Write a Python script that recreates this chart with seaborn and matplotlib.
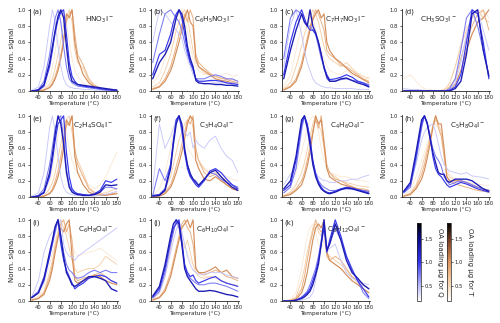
import numpy as np
import matplotlib
matplotlib.use('Agg')
import matplotlib.pyplot as plt
import seaborn as sns
from matplotlib.colors import LinearSegmentedColormap, Normalize
from matplotlib.cm import ScalarMappable

# temperature grid (deg C) shared by all thermograms
T = [28, 40, 50, 60, 65, 70, 75, 80, 85, 90, 95, 100, 105, 110, 120, 130, 140, 150, 160, 170, 180]

# OA loading (ug) of each line, Q = blue, T = orange
load_q = [0.45, 0.75, 1.0, 1.3]
load_t = [0.4, 0.6, 0.8, 1.05]

labels = ['HNO$_3$I$^-$', 'C$_6$H$_5$NO$_3$I$^-$', 'C$_7$H$_7$NO$_3$I$^-$', 'CH$_3$SO$_3$I$^-$',
          'C$_2$H$_4$SO$_4$I$^-$', 'C$_3$H$_4$O$_4$I$^-$', 'C$_4$H$_6$O$_4$I$^-$', 'C$_5$H$_8$O$_4$I$^-$',
          'C$_6$H$_8$O$_4$I$^-$', 'C$_6$H$_{10}$O$_4$I$^-$', 'C$_8$H$_{12}$O$_4$I$^-$']
letters = ['(a)', '(b)', '(c)', '(d)', '(e)', '(f)', '(g)', '(h)', '(i)', '(j)', '(k)']

a_blue = [
    [0.01, 0.05, 0.3, 0.8, 1.0, 0.85, 0.55, 0.3, 0.15, 0.08, 0.05, 0.04, 0.03, 0.03, 0.02, 0.02, 0.01, 0.01, 0.01, 0.0, 0.0],
    [0.0, 0.02, 0.12, 0.45, 0.7, 0.9, 1.0, 0.85, 0.55, 0.3, 0.15, 0.1, 0.08, 0.06, 0.05, 0.04, 0.03, 0.02, 0.01, 0.01, 0.0],
    [0.0, 0.01, 0.06, 0.3, 0.5, 0.72, 0.88, 0.97, 1.0, 0.7, 0.35, 0.18, 0.12, 0.08, 0.06, 0.05, 0.04, 0.03, 0.02, 0.01, 0.01],
    [0.0, 0.01, 0.08, 0.35, 0.55, 0.75, 0.92, 1.0, 0.9, 0.55, 0.25, 0.12, 0.1, 0.08, 0.07, 0.06, 0.05, 0.04, 0.03, 0.02, 0.01],
]
a_orange = [
    [0.0, 0.01, 0.04, 0.15, 0.3, 0.5, 0.7, 0.9, 1.0, 0.85, 0.6, 0.4, 0.25, 0.18, 0.1, 0.06, 0.04, 0.03, 0.02, 0.02, 0.01],
    [0.0, 0.0, 0.02, 0.08, 0.15, 0.28, 0.45, 0.62, 0.8, 0.9, 1.0, 0.85, 0.5, 0.35, 0.28, 0.12, 0.05, 0.03, 0.02, 0.01, 0.01],
    [0.0, 0.0, 0.01, 0.05, 0.1, 0.18, 0.3, 0.45, 0.65, 0.85, 0.95, 1.0, 0.7, 0.45, 0.32, 0.15, 0.07, 0.04, 0.02, 0.02, 0.01],
    [0.0, 0.0, 0.01, 0.04, 0.08, 0.15, 0.25, 0.4, 0.6, 0.95, 0.9, 1.0, 0.6, 0.4, 0.2, 0.1, 0.05, 0.03, 0.02, 0.01, 0.01],
]
b_blue = [
    [0.6, 1.0, 0.95, 0.85, 0.8, 0.75, 0.7, 0.65, 0.5, 0.4, 0.3, 0.2, 0.15, 0.12, 0.12, 0.12, 0.1, 0.1, 0.1, 0.1, 0.1],
    [0.35, 0.7, 0.95, 1.0, 0.95, 0.9, 0.85, 0.75, 0.6, 0.45, 0.35, 0.25, 0.15, 0.15, 0.15, 0.18, 0.2, 0.18, 0.15, 0.15, 0.12],
    [0.2, 0.45, 0.5, 0.7, 0.85, 0.95, 1.0, 0.9, 0.7, 0.5, 0.35, 0.28, 0.15, 0.12, 0.12, 0.13, 0.13, 0.12, 0.1, 0.09, 0.08],
    [0.15, 0.35, 0.45, 0.6, 0.75, 0.9, 1.0, 0.95, 0.8, 0.55, 0.4, 0.3, 0.13, 0.1, 0.09, 0.09, 0.08, 0.08, 0.07, 0.07, 0.06],
]
b_orange = [
    [0.1, 0.2, 0.4, 0.65, 0.8, 0.9, 0.95, 1.0, 0.9, 0.75, 0.55, 0.4, 0.3, 0.25, 0.2, 0.2, 0.18, 0.2, 0.22, 0.18, 0.2],
    [0.05, 0.1, 0.25, 0.45, 0.6, 0.75, 0.85, 0.95, 1.0, 0.9, 0.7, 0.5, 0.35, 0.3, 0.22, 0.2, 0.18, 0.15, 0.15, 0.14, 0.12],
    [0.03, 0.06, 0.15, 0.3, 0.42, 0.55, 0.7, 0.82, 0.95, 0.85, 1.0, 0.9, 0.45, 0.35, 0.28, 0.22, 0.18, 0.16, 0.14, 0.12, 0.1],
    [0.02, 0.05, 0.12, 0.25, 0.35, 0.48, 0.6, 0.75, 0.9, 1.0, 0.85, 0.8, 0.4, 0.3, 0.25, 0.2, 0.15, 0.13, 0.12, 0.1, 0.1],
]
c_blue = [
    [0.3, 0.8, 1.0, 0.7, 0.5, 0.35, 0.25, 0.15, 0.1, 0.08, 0.06, 0.05, 0.04, 0.04, 0.03, 0.03, 0.03, 0.03, 0.02, 0.02, 0.02],
    [0.4, 0.9, 1.0, 0.95, 0.85, 0.8, 0.8, 0.75, 0.7, 0.55, 0.4, 0.3, 0.15, 0.12, 0.12, 0.14, 0.15, 0.13, 0.12, 0.1, 0.08],
    [0.2, 0.6, 0.85, 1.0, 0.9, 0.8, 0.75, 0.75, 0.7, 0.6, 0.45, 0.3, 0.2, 0.14, 0.15, 0.17, 0.2, 0.17, 0.12, 0.1, 0.06],
    [0.15, 0.5, 0.75, 0.95, 0.85, 0.8, 1.0, 0.8, 0.72, 0.6, 0.45, 0.28, 0.18, 0.12, 0.12, 0.15, 0.16, 0.13, 0.1, 0.08, 0.05],
]
c_orange = [
    [0.05, 0.2, 0.5, 0.8, 0.9, 0.95, 1.0, 0.9, 0.75, 0.6, 0.5, 0.4, 0.3, 0.25, 0.22, 0.2, 0.25, 0.2, 0.18, 0.15, 0.15],
    [0.03, 0.1, 0.3, 0.55, 0.7, 0.8, 0.9, 1.0, 0.95, 0.85, 0.7, 0.55, 0.45, 0.4, 0.35, 0.3, 0.35, 0.28, 0.22, 0.18, 0.16],
    [0.02, 0.06, 0.15, 0.35, 0.5, 0.65, 0.8, 0.9, 1.0, 0.95, 0.85, 0.75, 0.5, 0.45, 0.4, 0.32, 0.3, 0.25, 0.2, 0.15, 0.12],
    [0.01, 0.05, 0.12, 0.3, 0.45, 0.6, 0.75, 0.88, 0.95, 1.0, 0.9, 0.95, 0.6, 0.5, 0.4, 0.35, 0.28, 0.22, 0.18, 0.14, 0.1],
]
d_blue = [
    [0.03, 0.02, 0.02, 0.01, 0.01, 0.0, 0.0, 0.0, 0.0, 0.0, 0.0, 0.0, 0.01, 0.02, 0.1, 0.35, 0.7, 0.95, 1.0, 0.75, 0.5],
    [0.0, 0.0, 0.0, 0.0, 0.0, 0.0, 0.0, 0.0, 0.0, 0.0, 0.0, 0.0, 0.01, 0.03, 0.15, 0.5, 0.9, 1.0, 0.8, 0.5, 0.2],
    [0.0, 0.0, 0.0, 0.0, 0.0, 0.0, 0.0, 0.0, 0.0, 0.0, 0.0, 0.0, 0.0, 0.01, 0.05, 0.2, 0.6, 1.0, 0.95, 0.6, 0.15],
    [0.0, 0.0, 0.0, 0.0, 0.0, 0.0, 0.0, 0.0, 0.0, 0.0, 0.0, 0.0, 0.0, 0.0, 0.03, 0.12, 0.45, 0.95, 1.0, 0.5, 0.18],
]
d_orange = [
    [0.15, 0.2, 0.12, 0.05, 0.03, 0.02, 0.02, 0.01, 0.01, 0.01, 0.01, 0.02, 0.03, 0.08, 0.3, 0.6, 0.8, 0.7, 0.85, 1.0, 0.9],
    [0.01, 0.01, 0.01, 0.01, 0.0, 0.0, 0.0, 0.0, 0.0, 0.0, 0.01, 0.02, 0.05, 0.1, 0.3, 0.55, 0.75, 0.9, 1.0, 0.9, 0.85],
    [0.0, 0.0, 0.0, 0.0, 0.0, 0.0, 0.0, 0.0, 0.0, 0.0, 0.0, 0.0, 0.02, 0.05, 0.15, 0.4, 0.65, 0.8, 0.95, 1.0, 0.75],
    [0.0, 0.0, 0.0, 0.0, 0.0, 0.0, 0.0, 0.0, 0.0, 0.0, 0.0, 0.0, 0.0, 0.02, 0.08, 0.25, 0.5, 0.7, 0.85, 0.9, 1.0],
]
e_blue = [
    [0.01, 0.05, 0.3, 0.85, 1.0, 0.8, 0.5, 0.25, 0.12, 0.06, 0.04, 0.03, 0.02, 0.02, 0.01, 0.01, 0.01, 0.02, 0.03, 0.05, 0.07],
    [0.0, 0.02, 0.1, 0.4, 0.62, 0.85, 0.97, 1.0, 0.7, 0.35, 0.15, 0.08, 0.05, 0.04, 0.03, 0.02, 0.03, 0.06, 0.12, 0.12, 0.1],
    [0.0, 0.01, 0.05, 0.25, 0.45, 0.7, 0.9, 0.95, 1.0, 0.55, 0.25, 0.1, 0.06, 0.04, 0.03, 0.02, 0.04, 0.08, 0.2, 0.18, 0.22],
    [0.0, 0.01, 0.06, 0.3, 0.52, 0.78, 1.0, 0.9, 0.65, 0.3, 0.12, 0.06, 0.04, 0.03, 0.02, 0.02, 0.03, 0.06, 0.15, 0.14, 0.15],
]
e_orange = [
    [0.0, 0.01, 0.05, 0.2, 0.35, 0.55, 0.75, 0.92, 1.0, 0.8, 0.6, 0.45, 0.35, 0.3, 0.25, 0.15, 0.1, 0.15, 0.25, 0.4, 0.55],
    [0.0, 0.0, 0.02, 0.1, 0.18, 0.3, 0.48, 0.65, 0.85, 0.95, 1.0, 0.8, 0.55, 0.45, 0.3, 0.12, 0.06, 0.04, 0.05, 0.08, 0.1],
    [0.0, 0.0, 0.01, 0.05, 0.1, 0.2, 0.32, 0.5, 0.7, 0.88, 0.92, 1.0, 0.6, 0.4, 0.25, 0.1, 0.05, 0.03, 0.03, 0.04, 0.05],
    [0.0, 0.0, 0.01, 0.04, 0.08, 0.15, 0.25, 0.4, 0.6, 0.95, 0.88, 1.0, 0.5, 0.3, 0.15, 0.06, 0.03, 0.02, 0.02, 0.03, 0.04],
]
f_blue = [
    [0.1, 0.9, 0.6, 0.75, 0.85, 0.95, 1.0, 0.9, 0.8, 0.75, 0.8, 0.6, 0.7, 0.65, 0.6, 0.7, 0.75, 0.6, 0.5, 0.45, 0.3],
    [0.02, 0.35, 0.2, 0.4, 0.7, 0.95, 1.0, 0.8, 0.55, 0.4, 0.3, 0.22, 0.2, 0.15, 0.22, 0.3, 0.28, 0.22, 0.18, 0.15, 0.12],
    [0.02, 0.03, 0.1, 0.4, 0.7, 0.95, 1.0, 0.85, 0.55, 0.35, 0.25, 0.2, 0.15, 0.12, 0.2, 0.32, 0.35, 0.3, 0.22, 0.15, 0.1],
    [0.01, 0.02, 0.08, 0.35, 0.65, 0.9, 1.0, 0.9, 0.6, 0.4, 0.28, 0.22, 0.18, 0.14, 0.22, 0.3, 0.33, 0.25, 0.18, 0.12, 0.08],
]
f_orange = [
    [0.02, 0.1, 0.3, 0.6, 0.8, 0.95, 1.0, 0.85, 0.7, 0.6, 0.55, 0.5, 0.45, 0.4, 0.35, 0.3, 0.35, 0.3, 0.25, 0.22, 0.2],
    [0.01, 0.03, 0.1, 0.25, 0.4, 0.55, 0.7, 0.8, 0.9, 0.95, 1.0, 0.85, 0.55, 0.45, 0.35, 0.28, 0.3, 0.25, 0.2, 0.15, 0.12],
    [0.0, 0.02, 0.06, 0.15, 0.25, 0.38, 0.5, 0.65, 0.8, 0.95, 0.9, 1.0, 0.6, 0.45, 0.3, 0.25, 0.28, 0.22, 0.15, 0.12, 0.1],
    [0.0, 0.01, 0.04, 0.12, 0.2, 0.3, 0.42, 0.55, 0.72, 0.9, 1.0, 0.95, 0.45, 0.35, 0.22, 0.2, 0.25, 0.2, 0.15, 0.1, 0.08],
]
g_blue = [
    [0.15, 0.28, 0.35, 0.8, 1.0, 0.85, 0.6, 0.4, 0.3, 0.25, 0.22, 0.2, 0.2, 0.18, 0.18, 0.2, 0.2, 0.22, 0.22, 0.25, 0.27],
    [0.05, 0.12, 0.35, 0.85, 1.0, 0.9, 0.7, 0.45, 0.3, 0.2, 0.15, 0.12, 0.1, 0.08, 0.08, 0.1, 0.1, 0.1, 0.09, 0.08, 0.07],
    [0.08, 0.15, 0.45, 0.9, 1.0, 0.9, 0.72, 0.45, 0.28, 0.18, 0.12, 0.08, 0.06, 0.05, 0.07, 0.1, 0.12, 0.11, 0.09, 0.07, 0.05],
    [0.1, 0.2, 0.5, 0.95, 1.0, 0.85, 0.65, 0.4, 0.25, 0.16, 0.1, 0.07, 0.05, 0.04, 0.06, 0.09, 0.11, 0.1, 0.08, 0.06, 0.04],
]
g_orange = [
    [0.05, 0.15, 0.3, 0.55, 0.7, 0.85, 0.95, 1.0, 0.95, 0.8, 0.6, 0.45, 0.35, 0.3, 0.28, 0.25, 0.25, 0.22, 0.2, 0.2, 0.18],
    [0.02, 0.06, 0.15, 0.3, 0.42, 0.58, 0.75, 0.9, 1.0, 0.9, 0.8, 0.6, 0.35, 0.3, 0.25, 0.2, 0.18, 0.16, 0.14, 0.13, 0.12],
    [0.01, 0.04, 0.1, 0.2, 0.3, 0.45, 0.62, 0.82, 0.95, 0.85, 1.0, 0.7, 0.4, 0.3, 0.22, 0.2, 0.16, 0.13, 0.1, 0.1, 0.08],
    [0.01, 0.03, 0.08, 0.15, 0.25, 0.38, 0.55, 0.78, 1.0, 0.9, 0.95, 0.65, 0.35, 0.25, 0.2, 0.16, 0.14, 0.12, 0.1, 0.08, 0.07],
]
h_blue = [
    [0.05, 0.15, 0.4, 0.7, 0.8, 0.85, 0.88, 0.9, 0.8, 0.65, 0.5, 0.4, 0.35, 0.32, 0.3, 0.28, 0.3, 0.26, 0.25, 0.24, 0.22],
    [0.05, 0.12, 0.45, 0.85, 1.0, 0.9, 0.75, 0.6, 0.5, 0.45, 0.38, 0.25, 0.2, 0.15, 0.18, 0.2, 0.18, 0.15, 0.12, 0.1, 0.08],
    [0.06, 0.15, 0.5, 0.9, 1.0, 0.92, 0.75, 0.5, 0.35, 0.28, 0.25, 0.2, 0.15, 0.12, 0.15, 0.18, 0.16, 0.13, 0.1, 0.08, 0.06],
    [0.07, 0.18, 0.55, 0.95, 1.0, 0.9, 0.72, 0.55, 0.42, 0.3, 0.28, 0.28, 0.2, 0.18, 0.22, 0.22, 0.22, 0.2, 0.15, 0.1, 0.07],
]
h_orange = [
    [0.02, 0.08, 0.25, 0.45, 0.55, 0.65, 0.75, 0.85, 0.9, 0.85, 0.75, 0.6, 0.35, 0.28, 0.22, 0.2, 0.18, 0.17, 0.16, 0.15, 0.14],
    [0.01, 0.05, 0.15, 0.35, 0.48, 0.6, 0.75, 0.85, 0.95, 0.9, 0.8, 0.55, 0.3, 0.25, 0.2, 0.18, 0.16, 0.14, 0.12, 0.1, 0.09],
    [0.01, 0.04, 0.12, 0.28, 0.4, 0.55, 0.7, 0.88, 1.0, 0.85, 0.75, 0.5, 0.25, 0.2, 0.16, 0.14, 0.12, 0.1, 0.08, 0.07, 0.06],
    [0.01, 0.03, 0.1, 0.22, 0.33, 0.48, 0.65, 0.85, 1.0, 0.9, 0.9, 0.6, 0.25, 0.2, 0.2, 0.2, 0.18, 0.15, 0.12, 0.1, 0.08],
]
i_blue = [
    [0.05, 0.25, 0.6, 0.8, 0.85, 0.9, 0.95, 1.0, 0.7, 0.6, 0.55, 0.55, 0.5, 0.55, 0.6, 0.65, 0.7, 0.75, 0.8, 0.85, 0.9],
    [0.05, 0.12, 0.3, 0.55, 0.7, 0.85, 1.0, 0.8, 0.6, 0.45, 0.38, 0.35, 0.3, 0.28, 0.3, 0.35, 0.38, 0.35, 0.38, 0.35, 0.35],
    [0.04, 0.1, 0.25, 0.55, 0.72, 0.9, 1.0, 0.7, 0.5, 0.38, 0.3, 0.22, 0.15, 0.18, 0.22, 0.28, 0.3, 0.32, 0.3, 0.25, 0.22],
    [0.04, 0.1, 0.28, 0.6, 0.75, 0.92, 1.0, 0.8, 0.55, 0.35, 0.28, 0.2, 0.18, 0.2, 0.25, 0.3, 0.3, 0.28, 0.25, 0.15, 0.12],
]
i_orange = [
    [0.02, 0.06, 0.2, 0.45, 0.6, 0.75, 0.85, 0.95, 1.0, 0.9, 0.8, 0.7, 0.6, 0.55, 0.58, 0.6, 0.62, 0.65, 0.6, 0.55, 0.5],
    [0.01, 0.04, 0.12, 0.35, 0.5, 0.7, 0.85, 1.0, 0.9, 0.8, 0.65, 0.5, 0.4, 0.35, 0.38, 0.4, 0.4, 0.45, 0.55, 0.5, 0.45],
    [0.01, 0.03, 0.1, 0.3, 0.45, 0.65, 0.8, 0.95, 1.0, 0.85, 0.95, 0.75, 0.3, 0.25, 0.28, 0.3, 0.32, 0.35, 0.3, 0.25, 0.22],
    [0.01, 0.03, 0.08, 0.25, 0.4, 0.6, 0.78, 0.9, 0.85, 0.95, 1.0, 0.55, 0.25, 0.22, 0.25, 0.28, 0.32, 0.3, 0.25, 0.22, 0.2],
]
j_blue = [
    [0.03, 0.1, 0.3, 0.6, 0.75, 0.88, 0.95, 0.85, 0.7, 0.55, 0.45, 0.38, 0.35, 0.33, 0.33, 0.35, 0.35, 0.35, 0.32, 0.3, 0.28],
    [0.04, 0.12, 0.35, 0.7, 0.85, 1.0, 0.9, 0.7, 0.45, 0.32, 0.28, 0.25, 0.22, 0.2, 0.2, 0.22, 0.22, 0.2, 0.18, 0.15, 0.12],
    [0.05, 0.15, 0.4, 0.75, 0.9, 0.95, 1.0, 0.75, 0.45, 0.35, 0.3, 0.32, 0.25, 0.22, 0.25, 0.28, 0.3, 0.25, 0.22, 0.2, 0.18],
    [0.06, 0.18, 0.45, 0.8, 0.95, 1.0, 0.95, 0.7, 0.4, 0.3, 0.25, 0.2, 0.15, 0.12, 0.12, 0.13, 0.12, 0.1, 0.08, 0.07, 0.05],
]
j_orange = [
    [0.05, 0.15, 0.4, 0.75, 0.9, 1.0, 0.95, 0.85, 0.7, 0.6, 0.5, 0.45, 0.4, 0.35, 0.3, 0.3, 0.28, 0.25, 0.22, 0.2, 0.2],
    [0.03, 0.1, 0.3, 0.65, 0.85, 1.0, 0.9, 0.75, 0.65, 0.75, 0.6, 0.45, 0.35, 0.3, 0.28, 0.3, 0.3, 0.25, 0.22, 0.2, 0.18],
    [0.02, 0.05, 0.15, 0.35, 0.5, 0.65, 0.8, 0.95, 1.0, 0.9, 0.85, 0.7, 0.4, 0.35, 0.32, 0.35, 0.38, 0.35, 0.3, 0.28, 0.25],
    [0.01, 0.04, 0.12, 0.3, 0.45, 0.6, 0.75, 0.9, 0.95, 1.0, 0.9, 1.0, 0.4, 0.35, 0.35, 0.38, 0.42, 0.35, 0.38, 0.3, 0.28],
]
k_blue = [
    [0.0, 0.0, 0.0, 0.01, 0.02, 0.03, 0.05, 0.1, 0.25, 0.5, 0.75, 1.0, 0.6, 0.65, 0.7, 0.5, 0.35, 0.28, 0.25, 0.22, 0.2],
    [0.0, 0.0, 0.01, 0.05, 0.08, 0.12, 0.2, 0.3, 0.4, 0.55, 0.75, 0.95, 0.65, 0.7, 0.9, 0.75, 0.55, 0.4, 0.25, 0.1, 0.03],
    [0.0, 0.0, 0.01, 0.04, 0.07, 0.1, 0.15, 0.25, 0.35, 0.5, 0.7, 0.9, 0.6, 0.75, 1.0, 0.8, 0.55, 0.38, 0.25, 0.15, 0.05],
    [0.0, 0.0, 0.01, 0.03, 0.05, 0.08, 0.12, 0.2, 0.32, 0.45, 0.7, 1.0, 0.62, 0.7, 0.95, 0.75, 0.5, 0.35, 0.28, 0.2, 0.15],
]
k_orange = [
    [0.0, 0.02, 0.1, 0.4, 0.6, 0.8, 0.9, 0.95, 0.85, 0.7, 0.65, 0.75, 0.55, 0.5, 0.45, 0.4, 0.35, 0.3, 0.25, 0.2, 0.15],
    [0.0, 0.01, 0.05, 0.25, 0.4, 0.6, 0.75, 0.9, 0.95, 0.85, 0.8, 0.95, 0.6, 0.55, 0.5, 0.45, 0.38, 0.3, 0.22, 0.15, 0.1],
    [0.0, 0.01, 0.03, 0.15, 0.3, 0.5, 0.7, 0.85, 1.0, 0.9, 0.85, 0.9, 0.55, 0.5, 0.55, 0.5, 0.4, 0.3, 0.25, 0.2, 0.15],
    [0.0, 0.0, 0.02, 0.1, 0.2, 0.35, 0.55, 0.75, 0.9, 0.95, 0.9, 1.0, 0.6, 0.5, 0.45, 0.4, 0.32, 0.25, 0.2, 0.15, 0.1],
]

blues = [a_blue, b_blue, c_blue, d_blue, e_blue, f_blue, g_blue, h_blue, i_blue, j_blue, k_blue]
oranges = [a_orange, b_orange, c_orange, d_orange, e_orange, f_orange, g_orange, h_orange, i_orange, j_orange, k_orange]

cmap_q = LinearSegmentedColormap.from_list('q', [(0, 'white'), (0.2, '#b8b8fa'), (0.5, '#3535ee'), (0.8, '#0a0a8a'), (1, 'black')])
cmap_t = LinearSegmentedColormap.from_list('t', [(0, 'white'), (0.25, '#f5cfa8'), (0.5, '#dd9560'), (0.75, '#86482a'), (1, 'black')])
norm = Normalize(0.18, 1.84)

sns.set_style('ticks')
plt.rcParams['font.family'] = ['DejaVu Sans']

fig = plt.figure(figsize=(5, 3.23), dpi=100)
W, H = 500, 323
col_x = [30, 151, 282, 402]
row_top = [9, 115, 219]
aw, ah = 88, 82
# right edge (axes fraction) of each species label
lab_x = [0.95, 0.95, 0.95, 0.62, 0.95, 0.95, 0.95, 0.95, 0.95, 0.95, 0.95]

for n in range(11):
    r, c = divmod(n, 4)
    ax = fig.add_axes([col_x[c] / W, 1 - (row_top[r] + ah) / H, aw / W, ah / H])
    for vals, ld in zip(oranges[n], load_t):
        sns.lineplot(x=T, y=vals, ax=ax, color=cmap_t(norm(ld)), lw=0.4 + 0.4 * ld, legend=False)
    for vals, ld in zip(blues[n], load_q):
        sns.lineplot(x=T, y=vals, ax=ax, color=cmap_q(norm(ld)), lw=0.45 + 0.4 * ld, legend=False)
    ax.set_xlim(25, 182)
    ax.set_ylim(0, 1.01)
    ax.set_xticks([40, 60, 80, 100, 120, 140, 160, 180])
    ax.set_yticks([0, 0.2, 0.4, 0.6, 0.8, 1.0])
    ax.set_yticklabels(['0.0', '0.2', '0.4', '0.6', '0.8', '1.0'])
    ax.tick_params(labelsize=3.8, length=1.8, width=0.5, pad=1)
    for s in ['left', 'bottom']:
        ax.spines[s].set_linewidth(0.6)
    sns.despine(ax=ax)
    ax.set_xlabel('Temperature (°C)', fontsize=4.2, labelpad=1)
    ax.set_ylabel('Norm. signal', fontsize=5, labelpad=2)
    ax.text(0.03, 1.0, letters[n], transform=ax.transAxes, fontsize=5, va='top', ha='left')
    ax.text(lab_x[n], 0.93, labels[n], transform=ax.transAxes, fontsize=5.2, va='top', ha='right')

# colour bars for OA loading
for cx, cm, lab in [(417, cmap_q, 'OA loading µg for Q'), (447, cmap_t, 'OA loading µg for T')]:
    cax = fig.add_axes([cx / W, 1 - 301 / H, 4 / W, 78 / H])
    cb = fig.colorbar(ScalarMappable(norm=norm, cmap=cm), cax=cax)
    cb.set_ticks([0.5, 1.0, 1.5])
    cb.ax.tick_params(labelsize=3.8, length=1.5, width=0.5, pad=1)
    cb.outline.set_linewidth(0.5)
    cb.set_label(lab, fontsize=5, rotation=270, labelpad=7)

fig.savefig('out.png', dpi=100)
